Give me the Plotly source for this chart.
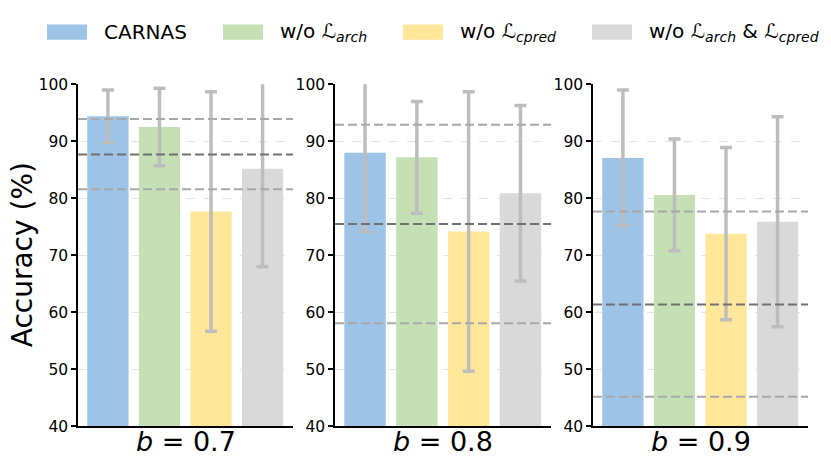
import plotly.graph_objects as go

# values
variants = ["CARNAS", "w/o L_arch", "w/o L_cpred", "w/o L_arch & L_cpred"]
legend_labels = ["CARNAS",
                 "w/o <i>ℒ</i><sub><i>arch</i></sub>",
                 "w/o <i>ℒ</i><sub><i>cpred</i></sub>",
                 "w/o <i>ℒ</i><sub><i>arch</i></sub> & <i>ℒ</i><sub><i>cpred</i></sub>"]
colors = ["#9dc3e6", "#c5e0b4", "#ffe699", "#d9d9d9"]

b_values = ["0.7", "0.8", "0.9"]
acc = [
    [94.4, 92.5, 77.7, 85.2],
    [88.0, 87.2, 74.2, 80.9],
    [87.1, 80.6, 73.8, 75.9],
]
err = [
    [4.6, 6.8, 21.0, 17.2],
    [13.8, 9.8, 24.5, 15.4],
    [11.9, 9.8, 15.1, 18.4],
]
# horizontal dashed reference lines per panel
ref_hi = [93.9, 92.9, 77.7]
ref_mid = [87.7, 75.5, 61.4]
ref_lo = [81.6, 58.1, 45.2]

W, H = 831, 473
x_domains = [(78, 293), (335, 551), (593, 808)]
y_dom = [(H - 434) / H, (H - 78.3) / H]
font = "DejaVu Sans"

fig = go.Figure()
shapes = []
annotations = []

for p in range(3):
    xa = "x" if p == 0 else "x%d" % (p + 1)
    ya = "y" if p == 0 else "y%d" % (p + 1)
    fig.add_trace(go.Bar(
        x=variants, y=acc[p], xaxis=xa, yaxis=ya,
        marker=dict(color=colors, line=dict(width=0)),
        width=0.8,
        error_y=dict(type="data", array=err[p], color="#bdbdbd", thickness=3.5, width=6),
        showlegend=False,
    ))
    axn = "" if p == 0 else str(p + 1)
    d = x_domains[p]
    fig.layout["xaxis" + axn] = dict(
        domain=[d[0] / W, d[1] / W], anchor=ya, range=[-0.58, 3.59],
        showticklabels=False, ticks="", showgrid=False, zeroline=False,
        showline=True, linecolor="black", linewidth=1.5,
    )
    fig.layout["yaxis" + axn] = dict(
        domain=y_dom, anchor=xa, range=[40, 100], dtick=10,
        ticks="outside", ticklen=5, tickwidth=1.5, tickcolor="black",
        tickfont=dict(size=15.5, color="black", family=font),
        showgrid=True, gridcolor="#e3e3e3", griddash="dash", gridwidth=1,
        zeroline=False, showline=True, linecolor="black", linewidth=1.5,
    )
    for val, col in [(ref_hi[p], "#a8a8a8"), (ref_mid[p], "#707070"), (ref_lo[p], "#a8a8a8")]:
        shapes.append(dict(
            type="line", xref=xa + " domain", yref=ya, x0=0, x1=1, y0=val, y1=val,
            line=dict(color=col, width=2, dash="9px,4px"), layer="above",
        ))
    annotations.append(dict(
        xref=xa + " domain", yref="paper", x=0.5, y=(H - 450) / H,
        text="<i>b</i> = " + b_values[p], showarrow=False,
        font=dict(size=27, color="black", family=font), xanchor="center", yanchor="middle",
    ))

annotations.append(dict(
    xref="paper", yref="paper", x=22 / W, y=(H - 256) / H, textangle=-90,
    text="Accuracy (%)", showarrow=False,
    font=dict(size=28, color="black", family=font), xanchor="center", yanchor="middle",
))

# legend drawn by hand to get the wide patches of the original
legend_left = [47, 223, 403, 592]
for i in range(4):
    x0 = legend_left[i]
    shapes.append(dict(
        type="rect", xref="paper", yref="paper",
        x0=x0 / W, x1=(x0 + 40) / W, y0=(H - 32) / H, y1=(H - 16) / H,
        fillcolor=colors[i], line=dict(width=0),
    ))
    annotations.append(dict(
        xref="paper", yref="paper", x=(x0 + 55) / W, y=(H - 24) / H,
        text=legend_labels[i], showarrow=False, xanchor="left", yanchor="middle",
        font=dict(size=20, color="black", family=font),
    ))

fig.update_layout(
    width=W, height=H, margin=dict(l=0, r=0, t=0, b=0),
    plot_bgcolor="white", paper_bgcolor="white",
    shapes=shapes, annotations=annotations, bargap=0.2,
    font=dict(family=font),
)

# pin the page to exactly the figure size, no default margins or overflow
page_fix = (
    "document.documentElement.style.margin='0px';"
    "document.documentElement.style.overflow='hidden';"
    "document.body.style.margin='0px';"
    "document.body.style.overflow='hidden';"
    "document.body.style.height='473px';"
)
fig.write_html("out.html", post_script=page_fix, config={"displayModeBar": False})
